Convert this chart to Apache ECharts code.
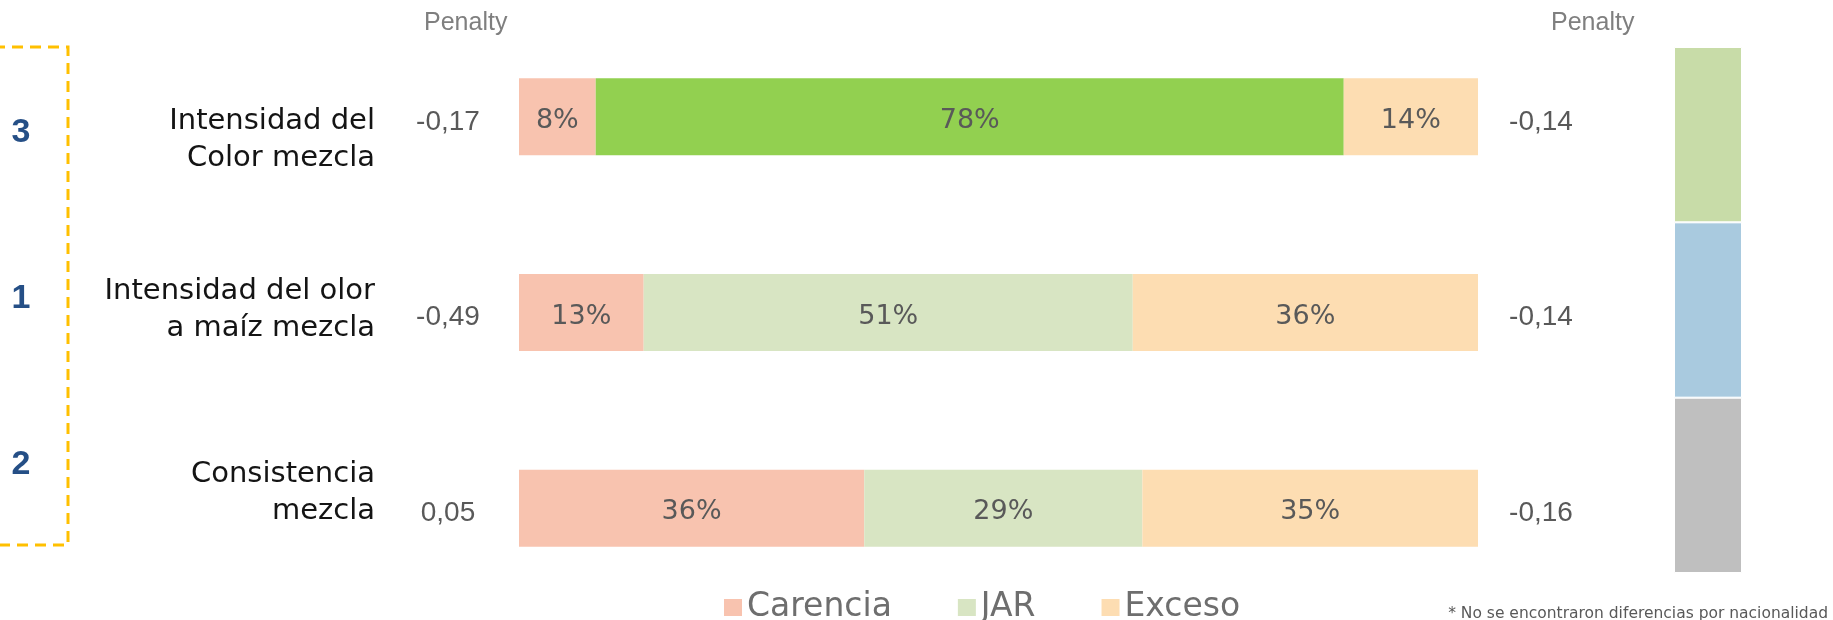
<!DOCTYPE html>
<html>
<head>
<meta charset="utf-8">
<script src="https://cdn.jsdelivr.net/npm/echarts@6/dist/echarts.min.js"></script>
<style>
html,body{margin:0;padding:0;background:#fff;}
#chart{width:1833px;height:620px;}
</style>
</head>
<body>
<div id="chart"></div>
<script>
const categories = ['Intensidad del\nColor mezcla', 'Intensidad del olor\na maíz mezcla', 'Consistencia\nmezcla'];
const carencia = [8, 13, 36];
const jar = [78, 51, 29];
const exceso = [14, 36, 35];
const penaltyLeft = ['-0,17', '-0,49', '0,05'];
const penaltyRight = ['-0,14', '-0,14', '-0,16'];
const ranks = ['3', '1', '2'];
const groupSegments = [1, 1, 1]; // bottom to top: gray, blue, green
const footnote = '* No se encontraron diferencias por nacionalidad';

const GOTHIC = '"DejaVu Sans", sans-serif';
const ARIAL = '"Liberation Sans", Arial, sans-serif';

const chart = echarts.init(document.getElementById('chart'), null, {renderer: 'canvas'});

const catStyle = {fontFamily: GOTHIC, fontSize: 29, color: '#141414', lineHeight: 37};
const catRich = {
  n: Object.assign({}, catStyle),
  s0: {fontSize: 8, lineHeight: 46},
  s1: {fontSize: 8, lineHeight: 6},
  s2: {fontSize: 8, lineHeight: 30}
};
const penStyle = {fontFamily: ARIAL, fontSize: 28, color: '#595959', lineHeight: 32};
const penRich = {p: penStyle, s: {fontSize: 8, lineHeight: 10}};
const rankStyle = {fontFamily: ARIAL, fontWeight: 'bold', fontSize: 34, color: '#254F86', lineHeight: 38};
const rankRich = {r: rankStyle, s: {fontSize: 8, lineHeight: 5}};

const barLabel = {show: true, position: 'inside', offset: [0, 4], formatter: '{c}%', fontFamily: GOTHIC, fontSize: 27, color: '#595959'};

const option = {
  animation: false,
  backgroundColor: '#fff',
  title: [
    {text: 'Penalty', left: 419, top: 6, textStyle: {fontFamily: ARIAL, fontSize: 25, fontWeight: 'normal', color: '#7f7f7f'}},
    {text: 'Penalty', left: 1546, top: 6, textStyle: {fontFamily: ARIAL, fontSize: 25, fontWeight: 'normal', color: '#7f7f7f'}},
    {text: footnote, right: 0, top: 601, textStyle: {fontFamily: GOTHIC, fontSize: 15.5, fontWeight: 'normal', color: '#595959'}}
  ],
  legend: {
    data: ['Carencia', 'JAR', 'Exceso'],
    left: 724, top: 591, padding: 0,
    icon: 'rect', itemWidth: 18, itemHeight: 17, itemGap: 66,
    textStyle: {fontFamily: GOTHIC, fontSize: 33, color: '#6e6e6e'}
  },
  graphic: [
    {type: 'rect', shape: {x: -6, y: 47, width: 74, height: 498},
     style: {fill: 'none', stroke: '#FFC000', lineWidth: 3, lineDash: [11, 7]}, silent: true}
  ],
  grid: [
    {left: 519, right: 355, top: 19, bottom: 14},
    {left: 0, width: 68, top: 47, height: 498},
    {left: 1674, width: 68, top: 47, height: 526}
  ],
  xAxis: [
    {type: 'value', gridIndex: 0, min: 0, max: 100, show: false},
    {type: 'value', gridIndex: 1, min: 0, max: 1, show: false},
    {type: 'category', gridIndex: 2, data: ['g'], show: false}
  ],
  yAxis: [
    {type: 'category', gridIndex: 0, data: categories, inverse: true, position: 'left',
     axisLine: {show: false}, axisTick: {show: false}, splitLine: {show: false},
     axisLabel: {margin: 144, align: 'right', fontFamily: GOTHIC, fontSize: 29, color: '#141414', lineHeight: 37,
       rich: catRich,
       formatter: function (v, i) {
         const lines = v.split('\n');
         const body = '{n|' + lines[0] + '}\n{n|' + lines[1] + '}';
         if (i === 0) return '{s0| }\n' + body;
         return body + '\n{s' + i + '| }';
       }}},
    {type: 'category', gridIndex: 0, data: categories, inverse: true, position: 'left',
     axisLine: {show: false}, axisTick: {show: false}, splitLine: {show: false},
     axisLabel: {margin: 71, align: 'center', fontFamily: ARIAL, fontSize: 28, color: '#595959', rich: penRich,
       formatter: function (v, i) { return '{s| }\n{p|' + penaltyLeft[i] + '}'; }}},
    {type: 'category', gridIndex: 0, data: categories, inverse: true, position: 'right',
     axisLine: {show: false}, axisTick: {show: false}, splitLine: {show: false},
     axisLabel: {margin: 63, align: 'center', fontFamily: ARIAL, fontSize: 28, color: '#595959', rich: penRich,
       formatter: function (v, i) { return '{s| }\n{p|' + penaltyRight[i] + '}'; }}},
    {type: 'category', gridIndex: 1, data: ranks, inverse: true, position: 'left',
     axisLine: {show: false}, axisTick: {show: false}, splitLine: {show: false},
     axisLabel: {inside: true, margin: 21, align: 'center', fontFamily: ARIAL, fontWeight: 'bold', fontSize: 34, color: '#254F86', rich: rankRich,
       formatter: function (v) { return '{s| }\n{r|' + v + '}'; }}},
    {type: 'value', gridIndex: 2, min: 0, max: 3, show: false}
  ],
  series: [
    {name: 'Carencia', type: 'bar', stack: 'jar', xAxisIndex: 0, yAxisIndex: 0, barWidth: 77,
     itemStyle: {color: '#F8C3AF'}, label: barLabel, data: carencia},
    {name: 'JAR', type: 'bar', stack: 'jar', xAxisIndex: 0, yAxisIndex: 0, barWidth: 77,
     itemStyle: {color: '#D8E5C3'}, label: barLabel,
     data: jar.map(function (v, i) { return i === 0 ? {value: v, itemStyle: {color: '#92D050'}} : v; })},
    {name: 'Exceso', type: 'bar', stack: 'jar', xAxisIndex: 0, yAxisIndex: 0, barWidth: 77,
     itemStyle: {color: '#FDDDB2'}, label: barLabel, data: exceso},
    {name: 'grupo gris', type: 'bar', stack: 'grp', xAxisIndex: 2, yAxisIndex: 4, barWidth: '100%',
     itemStyle: {color: '#BFBFBF', borderColor: '#fff', borderWidth: 1}, data: [groupSegments[0]]},
    {name: 'grupo azul', type: 'bar', stack: 'grp', xAxisIndex: 2, yAxisIndex: 4, barWidth: '100%',
     itemStyle: {color: '#A9CADF', borderColor: '#fff', borderWidth: 1}, data: [groupSegments[1]]},
    {name: 'grupo verde', type: 'bar', stack: 'grp', xAxisIndex: 2, yAxisIndex: 4, barWidth: '100%',
     itemStyle: {color: '#C8DCA8', borderColor: '#fff', borderWidth: 1}, data: [groupSegments[2]]}
  ]
};
chart.setOption(option);
</script>
</body>
</html>
